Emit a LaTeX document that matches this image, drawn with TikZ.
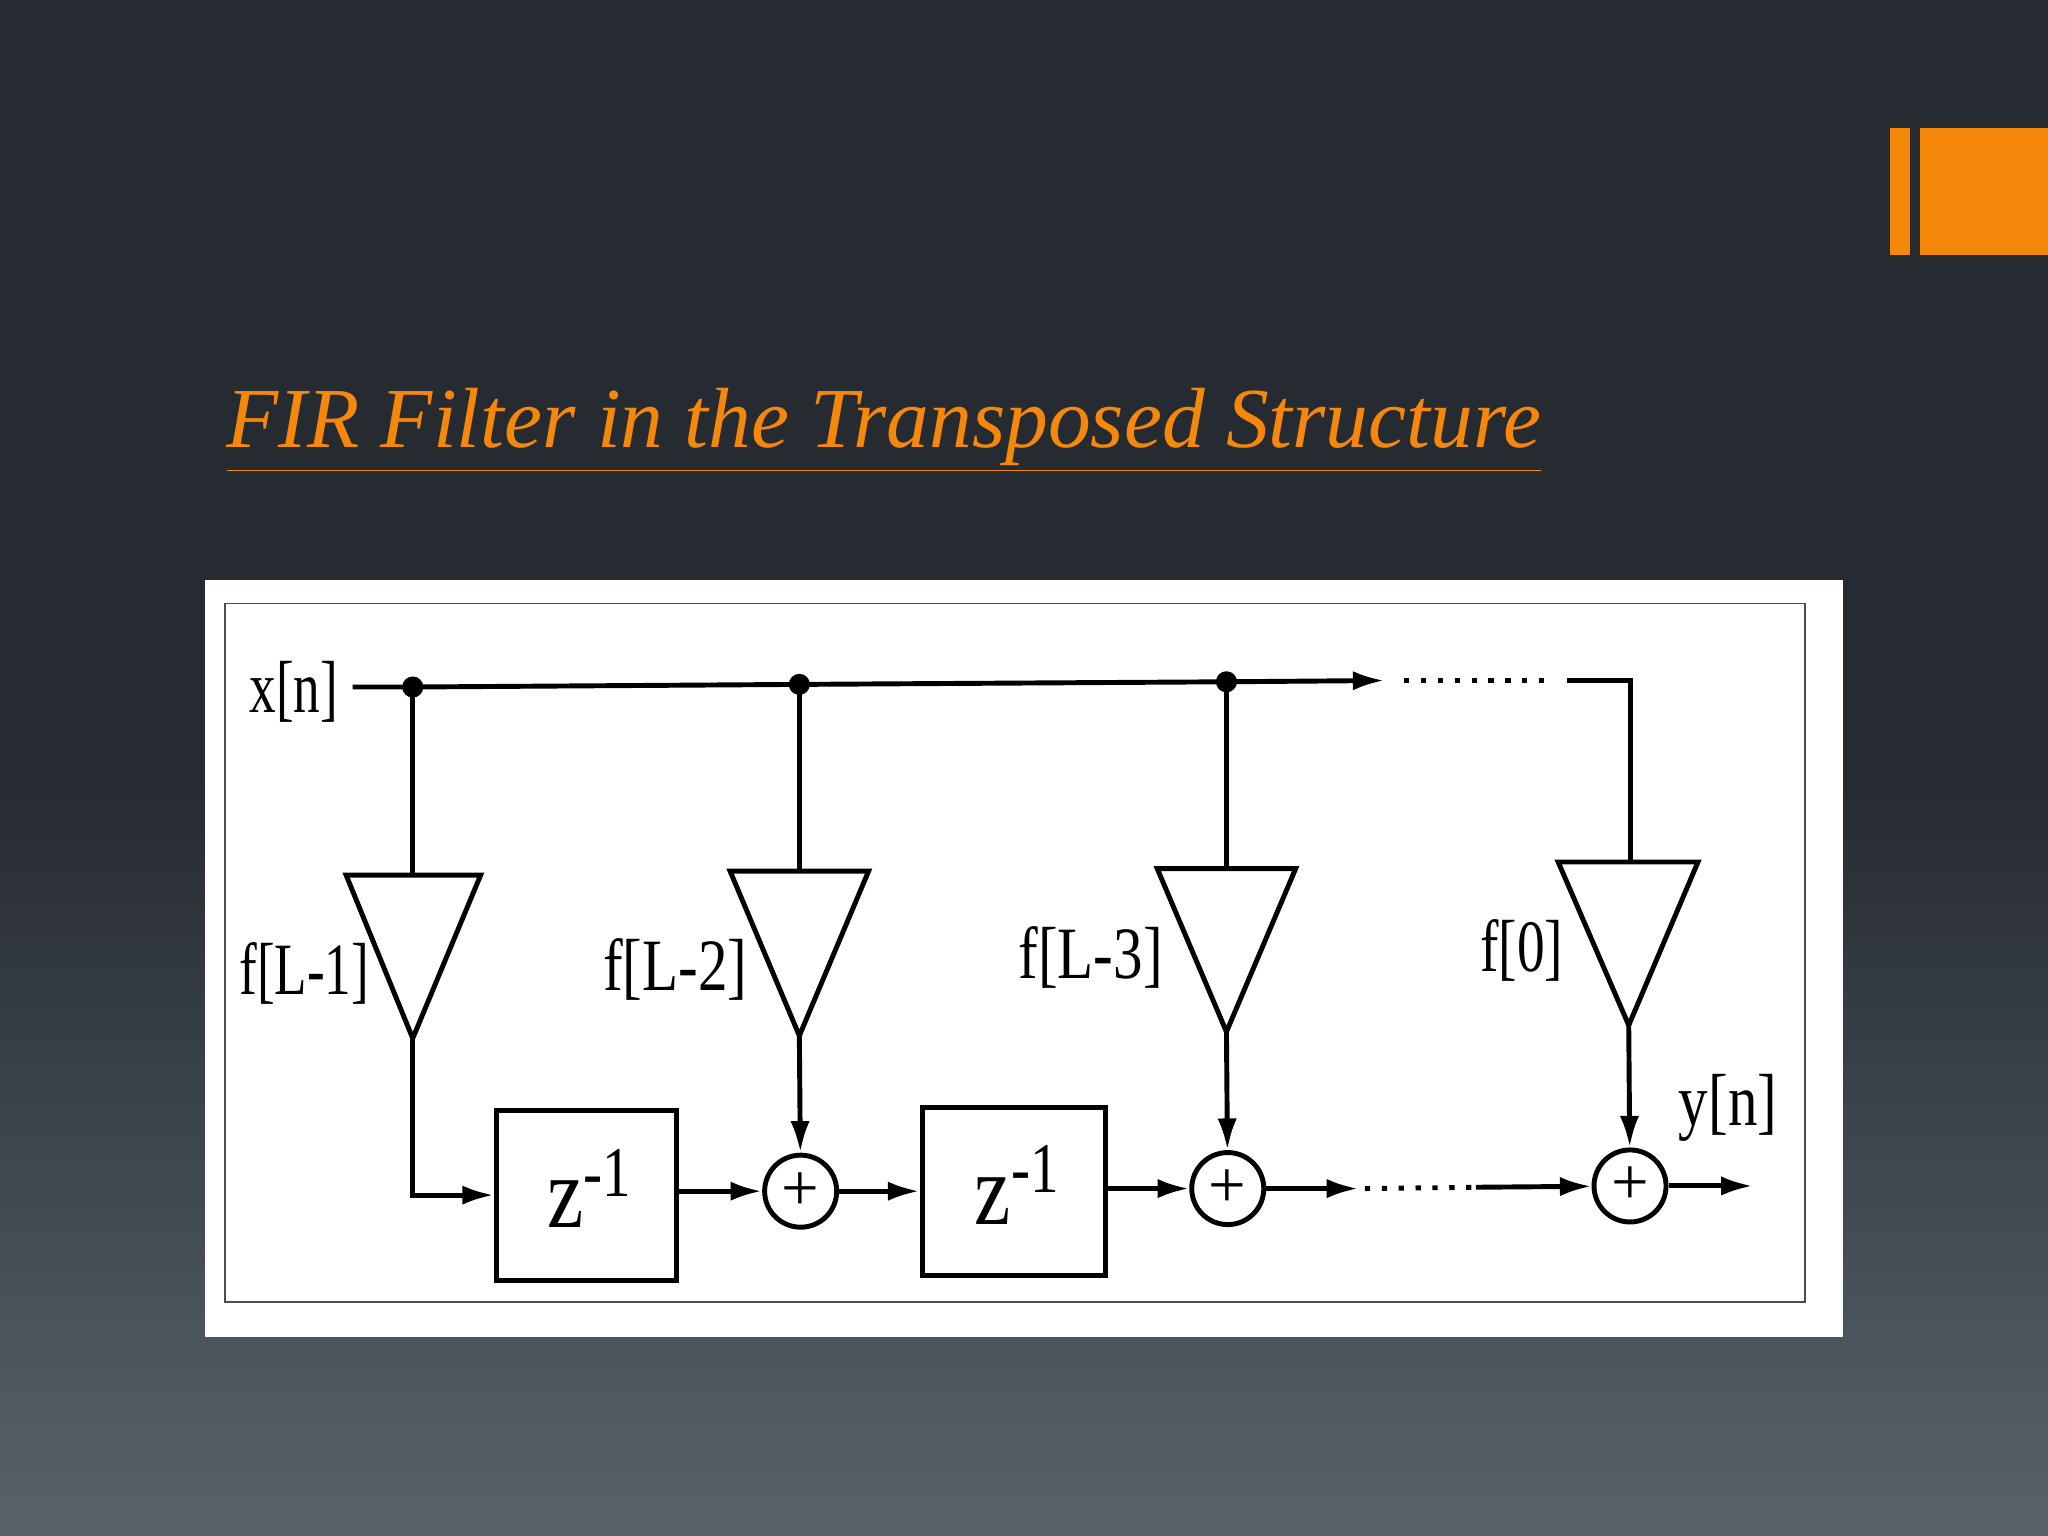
\documentclass[tikz,border=0pt]{standalone}
\usepackage{fontspec}
\setmainfont{Liberation Serif}
\usetikzlibrary{arrows.meta}
\definecolor{bgtop}{HTML}{262B31}
\definecolor{bgbot}{HTML}{59626B}
\definecolor{org}{HTML}{F5870A}
\tikzset{
 w/.style={line width=1.4pt,black},
 ar/.style={w,-{Latex[length=9pt,width=5.5pt]}},
 tri/.style={w,fill=white},
 lbl/.style={font=\fontsize{21}{21}\selectfont,inner sep=0pt},
 dotn/.style={circle,fill=black,inner sep=0pt,minimum size=6pt},
 addr/.style={circle,draw,line width=1.4pt,minimum size=20.5pt,inner sep=0pt,font=\fontsize{19}{19}\selectfont},
 zbox/.style={draw,line width=1.4pt,inner sep=0pt},
 dotl/.style={line width=1.4pt,dash pattern=on 1.5pt off 3.3pt}
}
\begin{document}
\begin{tikzpicture}[x=0.013061cm,y=-0.013061cm]
\useasboundingbox (0,0) rectangle (1568,1176);
\fill[bgtop] (0,0) rectangle (1568,600);
\shade[top color=bgtop,bottom color=bgbot] (0,599) rectangle (1568,1176);
\fill[org] (1447,98) rectangle (1462,195);
\fill[org] (1470,98) rectangle (1568,195);
\node[anchor=base west,text=org,inner sep=0pt] (title) at (173,343) {\resizebox{374pt}{!}{\fontsize{30}{30}\selectfont\itshape\underline{FIR Filter in the Transposed Structure}}};
\fill[white] (157,444) rectangle (1411,1024);
\draw[line width=0.5pt,black!70] (172,462) rectangle (1382,997);
% input
\node[lbl,xscale=0.72] (x) at (225,530) {x[n]};
\coordinate (xs) at (270,526);
\node[dotn] (d1) at (316,526) {};
\node[dotn] (d2) at (612,524) {};
\node[dotn] (d3) at (939,522) {};
\coordinate (xe) at (1060,521);
\draw[ar] (xs) -- (d1.center) -- (d2.center) -- (d3.center) -- (xe);
\coordinate (dt1) at (1075,521); \coordinate (dt2) at (1182,521);
\draw[dotl] (dt1) -- (dt2);
\coordinate (c4a) at (1200,521); \coordinate (c4b) at (1248,521);
% triangles
\draw[tri] (265,670) -- (368,670) -- (316,795) -- cycle;
\draw[tri] (559,667) -- (665,667) -- (612,793) -- cycle;
\draw[tri] (886,665) -- (992,665) -- (939,790) -- cycle;
\draw[tri] (1193,660) -- (1300,660) -- (1247,785) -- cycle;
\coordinate (t1) at (316,670); \coordinate (a1) at (316,795);
\coordinate (t2) at (612,667); \coordinate (a2) at (612,793);
\coordinate (t3) at (939,665); \coordinate (a3) at (939,790);
\coordinate (t4) at (1248,660); \coordinate (a4) at (1247,785);
\draw[w] (d1.center) -- (t1);
\draw[w] (d2.center) -- (t2);
\draw[w] (d3.center) -- (t3);
\draw[w] (c4a) -- (c4b) -- (t4);
\node[lbl,xscale=0.72] (f1) at (233,745) {f[L-1]};
\node[lbl,xscale=0.8] (f2) at (517,742) {f[L-2]};
\node[lbl,xscale=0.8] (f3) at (835,733) {f[L-3]};
\node[lbl,xscale=0.75] (f4) at (1165,728) {f[0]};
% boxes and adders
\node[zbox,minimum width=1.80cm,minimum height=1.70cm] (z1) at (449,915) {};
\node[zbox,minimum width=1.83cm,minimum height=1.68cm] (z2) at (776,912) {};
\node[font=\fontsize{29}{29}\selectfont,xscale=0.8] (zt1) at (452,910) {z\textsuperscript{-1}};
\node[font=\fontsize{29}{29}\selectfont,xscale=0.8] (zt2) at (779,907) {z\textsuperscript{-1}};
\node[addr] (p1) at (613,912) {+};
\node[addr] (p2) at (940,910) {+};
\node[addr] (p3) at (1248,908) {+};
\coordinate (b1) at (316,915);
\draw[ar] (a1) -- (b1) -- (z1.west |- b1);
\draw[ar] (z1.east |- p1) -- (p1);
\draw[ar] (p1) -- (z2.west |- p1);
\draw[ar] (z2.east |- p2) -- (p2);
\draw[ar] (a2) -- (p1);
\draw[ar] (a3) -- (p2);
\draw[ar] (a4) -- (p3);
\coordinate (e1) at (1040,910); \coordinate (e2) at (1045,910); \coordinate (e3) at (1130,909);
\draw[ar] (p2) -- (e1);
\draw[dotl] (e2) -- (e3);
\draw[ar] (e3) -- (p3);
\coordinate (yo) at (1342,908);
\draw[ar] (p3) -- (yo);
\node[lbl,xscale=0.8] (y) at (1323,848) {y[n]};
\end{tikzpicture}
\end{document}
